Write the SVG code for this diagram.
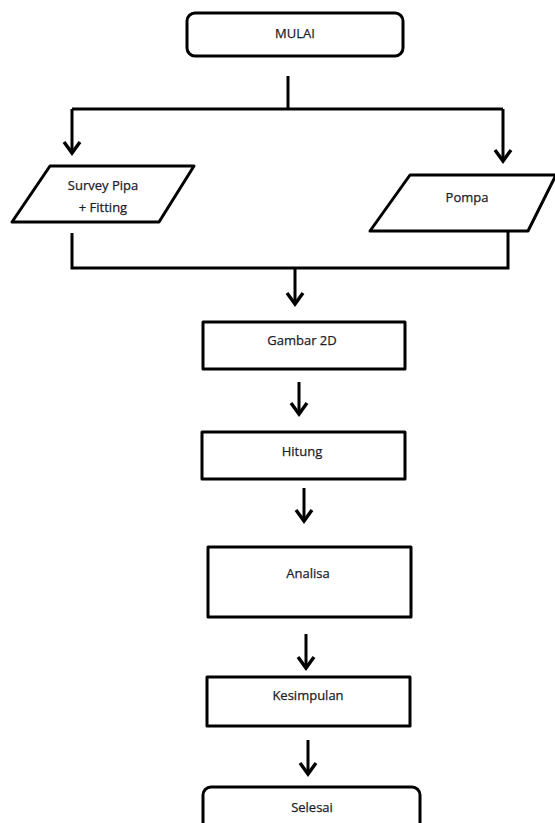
<svg xmlns="http://www.w3.org/2000/svg" width="555" height="823" viewBox="0 0 555 823">
<defs>
<style>
.shape{fill:#fff;stroke:#000;stroke-width:3;stroke-linejoin:round}
.conn{fill:none;stroke:#000;stroke-width:3}
.lbl{font-family:"Open Sans","Liberation Sans",sans-serif;font-size:13px;fill:#1c1c2a;stroke:#1c1c2a;stroke-width:0.25;text-anchor:middle;dominant-baseline:central}
</style>
<marker id="arr" markerUnits="userSpaceOnUse" viewBox="-14 -12 16 24" markerWidth="16" markerHeight="24" refX="0" refY="0" orient="auto" overflow="visible">
<path d="M-11,-8 L0,0 L-11,8" fill="none" stroke="#000" stroke-width="3.4" stroke-linejoin="miter"/>
</marker>
</defs>
<rect width="555" height="823" fill="#fff"/>
<g id="connectors">
<path class="conn" d="M288,76 V109"/>
<path class="conn" d="M72,109 H503"/>
<path class="conn" d="M72,109 V153" marker-end="url(#arr)"/>
<path class="conn" d="M503,109 V161" marker-end="url(#arr)"/>
<path class="conn" d="M72,233 V268 H508 V231"/>
<path class="conn" d="M295,268 V304" marker-end="url(#arr)"/>
<path class="conn" d="M299,382 V414" marker-end="url(#arr)"/>
<path class="conn" d="M304,488 V521" marker-end="url(#arr)"/>
<path class="conn" d="M306,634 V668" marker-end="url(#arr)"/>
<path class="conn" d="M308,740 V774" marker-end="url(#arr)"/>
</g>
<g id="mulai">
<rect class="shape" x="187" y="13" width="216" height="43" rx="8"/>
<text class="lbl" x="295" y="33">MULAI</text>
</g>
<g id="survey">
<polygon class="shape" points="50,166 194,166 159,222 12,222"/>
<text class="lbl" x="103" y="185">Survey Pipa</text>
<text class="lbl" x="103" y="207">+ Fitting</text>
</g>
<g id="pompa">
<polygon class="shape" points="410,175 556,175 528,231 370,231"/>
<text class="lbl" x="467" y="197">Pompa</text>
</g>
<g id="gambar">
<rect class="shape" x="203" y="322" width="202" height="47"/>
<text class="lbl" x="302" y="340">Gambar 2D</text>
</g>
<g id="hitung">
<rect class="shape" x="202" y="432" width="203" height="47"/>
<text class="lbl" x="302" y="451">Hitung</text>
</g>
<g id="analisa">
<rect class="shape" x="208" y="547" width="203" height="70"/>
<text class="lbl" x="308" y="573">Analisa</text>
</g>
<g id="kesimpulan">
<rect class="shape" x="207" y="677" width="203" height="49"/>
<text class="lbl" x="308" y="695">Kesimpulan</text>
</g>
<g id="selesai">
<rect class="shape" x="203" y="787" width="217" height="50" rx="8"/>
<text class="lbl" x="312" y="807">Selesai</text>
</g>
</svg>
